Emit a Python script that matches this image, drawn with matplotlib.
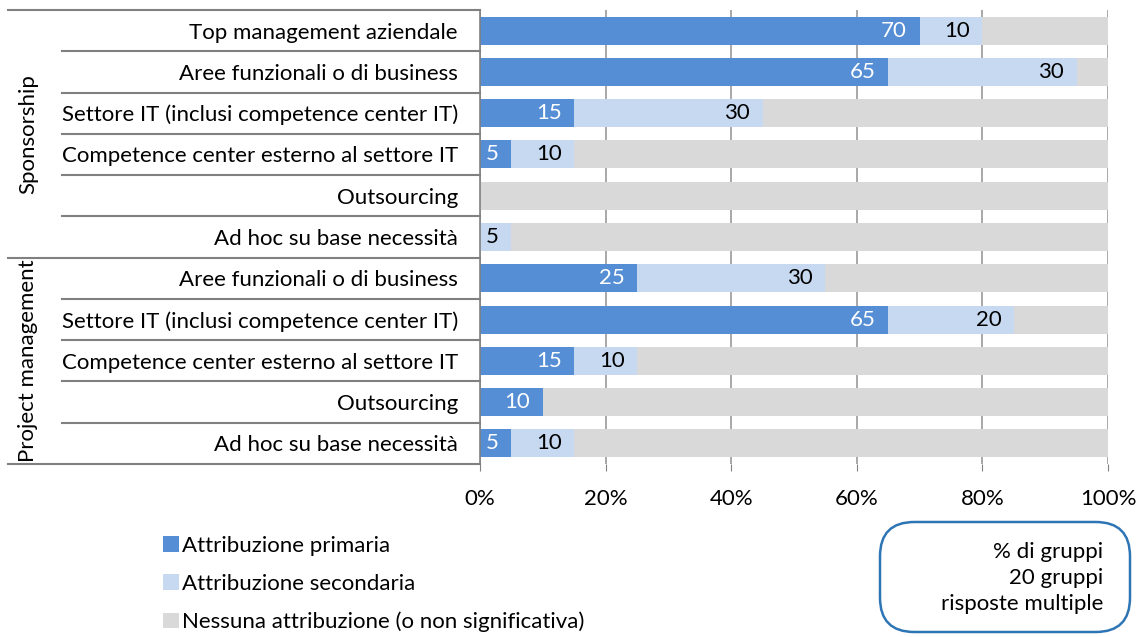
import numpy as np
import matplotlib.pyplot as plt
import matplotlib.transforms as mtransforms
from matplotlib.lines import Line2D
from matplotlib.patches import FancyBboxPatch

plt.rcParams['font.family'] = ['Lato', 'DejaVu Sans']

categories = ["Top management aziendale",
              "Aree funzionali o di business",
              "Settore IT (inclusi competence center IT)",
              "Competence center esterno al settore IT",
              "Outsourcing",
              "Ad hoc su base necessità",
              "Aree funzionali o di business",
              "Settore IT (inclusi competence center IT)",
              "Competence center esterno al settore IT",
              "Outsourcing",
              "Ad hoc su base necessità"]
groups = ["Sponsorship", "Project management"]
group_sizes = [6, 5]

primaria = [70, 65, 15, 5, 0, 0, 25, 65, 15, 10, 5]
secondaria = [10, 30, 30, 10, 0, 5, 30, 20, 10, 0, 10]
nessuna = [20, 5, 55, 85, 100, 95, 45, 15, 75, 90, 85]

series_names = ["Attribuzione primaria", "Attribuzione secondaria",
                "Nessuna attribuzione (o non significativa)"]
colors = ["#558ED5", "#C6D9F1", "#D9D9D9"]

fig = plt.figure(figsize=(11.43, 6.37), dpi=100)
ax = fig.add_axes([480/1143, 1-464/637, 628/1143, 454/637])

y = np.arange(len(categories))
p = np.array(primaria)
s = np.array(secondaria)
n = np.array(nessuna)
h = 0.68
b1 = ax.barh(y, p, height=h, color=colors[0], zorder=2)
b2 = ax.barh(y, s, left=p, height=h, color=colors[1], zorder=2)
b3 = ax.barh(y, n, left=p + s, height=h, color=colors[2], zorder=2)

fs = 16
# data labels, inside end
for i in range(len(categories)):
    if p[i] > 0:
        ax.annotate(str(p[i]), (p[i], y[i]), xytext=(-9, 0), textcoords='offset points',
                    ha='right', va='center', color='white', fontsize=fs, zorder=3)
    if s[i] > 0:
        ax.annotate(str(s[i]), (p[i] + s[i], y[i]), xytext=(-9, 0), textcoords='offset points',
                    ha='right', va='center', color='black', fontsize=fs, zorder=3)

ax.set_xlim(0, 100)
ax.set_ylim(len(categories) - 0.5, -0.5)
ax.set_xticks([0, 20, 40, 60, 80, 100])
ax.set_xticklabels(["0%", "20%", "40%", "60%", "80%", "100%"], fontsize=fs)
ax.set_yticks(y)
ax.set_yticklabels(categories, fontsize=fs)
ax.tick_params(axis='y', length=0, pad=16)
ax.tick_params(axis='x', length=5, color='#808080', pad=13, direction='out')
ax.grid(axis='x', color='#999999', linewidth=1.2, zorder=0)
ax.set_axisbelow(True)
for sp in ['top', 'right', 'bottom']:
    ax.spines[sp].set_visible(False)
ax.spines['left'].set_color('#808080')
ax.spines['left'].set_linewidth(1.2)

# table lines on the left
trans = mtransforms.blended_transform_factory(ax.transAxes, ax.transData)
x_inner = (62 - 480) / 628
x_outer = (8 - 480) / 628
bounds = np.cumsum([0] + group_sizes)
for k in range(len(categories) + 1):
    yy = k - 0.5
    xs = x_outer if k in bounds else x_inner
    ax.add_line(Line2D([xs, 0], [yy, yy], transform=trans, color='#808080',
                       linewidth=1.5, clip_on=False))

for g, name in enumerate(groups):
    yc = (bounds[g] + bounds[g + 1] - 1) / 2
    ax.text((28 - 480) / 628, yc, name, transform=trans, rotation=90,
            ha='center', va='center', fontsize=fs)

# legend
fig.legend([b1, b2, b3], series_names, loc='upper left',
           bbox_to_anchor=(143/1143, 1-516/637), frameon=False, fontsize=fs,
           handlelength=0.7, handleheight=0.7, handletextpad=0.15, labelspacing=0.8)

# note box
box = FancyBboxPatch((880/1143, 1-632/637), 250/1143, 110/637,
                     boxstyle="round,pad=0,rounding_size=0.03",
                     transform=fig.transFigure, facecolor='white',
                     edgecolor='#2E75B6', linewidth=1.8, mutation_aspect=1143/637)
fig.add_artist(box)
fig.text(1103/1143, 1-578/637, "% di gruppi\n20 gruppi\nrisposte multiple",
         ha='right', va='center', fontsize=fs, linespacing=1.4)

fig.savefig("out.png", dpi=100)
